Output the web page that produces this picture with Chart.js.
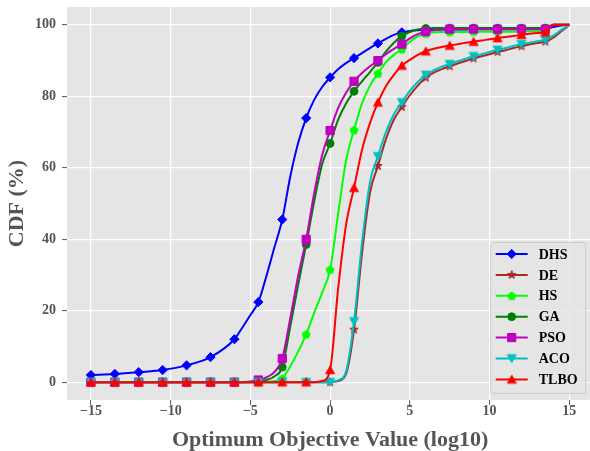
<!DOCTYPE html>
<html>
<head>
<meta charset="utf-8">
<script src="https://cdn.jsdelivr.net/npm/chart.js@4.4.1/dist/chart.umd.min.js"></script>
<style>
  html, body { margin: 0; padding: 0; background: #ffffff; overflow: hidden; }
  #wrap { width: 600px; height: 451px; }
</style>
</head>
<body>
<div id="wrap"><canvas id="cdf" width="600" height="451"></canvas></div>
<script>
// Sample positions (log10 of the optimum objective value)
const xValues = [-15, -13.5, -12, -10.5, -9, -7.5, -6,
  -5.5, -5, -4.5, -4, -3.5, -3, -2.5, -2, -1.5, -1, -0.5, 0, 0.5, 1, 1.5, 2, 2.5, 3, 3.5, 4, 4.5, 5, 5.5,
  6, 6.5, 7, 7.5, 8, 8.5, 9, 9.5, 10, 10.5, 11, 11.5, 12, 12.5, 13, 13.5, 14, 14.5, 15];

// Positions that carry a marker
const markerX = [-15, -13.5, -12, -10.5, -9, -7.5, -6, -4.5, -3, -1.5, 0, 1.5, 3, 4.5, 6, 7.5, 9, 10.5, 12, 13.5];

// CDF values (%) for each algorithm
const dhsValues = [2.0, 2.3, 2.8, 3.4, 4.7, 7.0, 12.0,
  15.3, 18.8, 22.4, 29.6, 37.6, 45.5, 57.5, 67.0, 73.9, 79.0, 82.6,
  85.3, 87.6, 89.3, 90.7, 92.1, 93.5, 94.8, 96.1, 97.2, 97.9, 98.3, 98.5,
  98.6, 98.6, 98.7, 98.7, 98.7, 98.7, 98.8, 98.8, 98.8, 98.8, 98.8, 98.8, 98.9, 98.9, 98.9, 98.9, 99.4, 99.8, 100];
const deValues = [0, 0, 0, 0, 0, 0, 0, 0, 0, 0, 0, 0, 0, 0, 0, 0, 0, 0, 0,
  0.3, 2.3, 14.7, 36.0, 53.0, 60.5, 68.0, 73.5, 77.0, 80.3, 83.0,
  85.2, 86.6, 87.6, 88.4, 89.2, 89.9, 90.6, 91.2, 91.8, 92.4, 92.9, 93.5, 94.0, 94.5, 94.9, 95.3, 96.4, 98.2, 100];
const hsValues = [0, 0, 0, 0, 0, 0, 0, 0, 0, 0, 0,
  0.3, 1.0, 4.4, 8.6, 13.4, 19.4, 25.0, 31.5, 47.0, 62.0, 70.6, 78.0, 83.0, 86.4, 89.5, 91.6, 93.2, 95.3, 96.8,
  97.6, 97.9, 98.0, 98.0, 98.0, 98.0, 98.1, 98.1, 98.1, 98.1, 98.1, 98.1, 98.2, 98.2, 98.2, 98.2, 100, 100, 100];
const gaValues = [0, 0, 0, 0, 0, 0, 0, 0,
  0.05, 0.2, 0.6, 1.6, 4.2, 15.5, 27.3, 38.5, 50.5, 61.0, 66.8, 73.4, 78.0, 81.4, 84.2, 86.8, 89.5, 92.5, 95.0, 96.9, 98.0, 98.7,
  99.0, 99.1, 99.1, 99.1, 99.1, 99.1, 99.1, 99.1, 99.1, 99.1, 99.1, 99.1, 99.1, 99.1, 99.1, 99.1, 100, 100, 100];
const psoValues = [0, 0, 0, 0, 0, 0, 0,
  0.05, 0.2, 0.6, 1.3, 2.8, 6.6, 17.8, 29.8, 40.0, 52.9, 63.5, 70.4, 76.7, 81.0, 84.2, 86.5, 88.4, 90.0, 91.8, 93.3, 94.6, 96.2, 97.4,
  98.1, 98.5, 98.7, 98.8, 98.8, 98.8, 98.8, 98.8, 98.8, 98.8, 98.8, 98.8, 98.8, 98.8, 98.8, 98.8, 100, 100, 100];
const acoValues = [0, 0, 0, 0, 0, 0, 0, 0, 0, 0, 0, 0, 0, 0, 0, 0, 0, 0, 0,
  0.5, 3.0, 17.0, 39.0, 56.0, 63.2, 70.0, 75.0, 78.3, 81.5, 84.0,
  86.0, 87.3, 88.3, 89.0, 89.8, 90.5, 91.2, 91.8, 92.4, 93.0, 93.5, 94.1, 94.6, 95.0, 95.4, 95.8, 97.0, 98.6, 100];
const tlboValues = [0, 0, 0, 0, 0, 0, 0, 0, 0, 0, 0, 0, 0, 0, 0, 0, 0,
  0.3, 3.4, 26.0, 44.0, 54.4, 65.0, 72.5, 78.3, 82.8, 86.0, 88.6, 90.2, 91.6,
  92.6, 93.3, 93.8, 94.2, 94.6, 95.0, 95.3, 95.6, 96.0, 96.3, 96.6, 96.9, 97.2, 97.5, 97.7, 97.9, 100, 100, 100];

const seriesNames = ['DHS', 'DE', 'HS', 'GA', 'PSO', 'ACO', 'TLBO'];
const seriesValues = [dhsValues, deValues, hsValues, gaValues, psoValues, acoValues, tlboValues];

const xTicks = [-15, -10, -5, 0, 5, 10, 15];
const yTicks = [0, 20, 40, 60, 80, 100];

const SERIF = "'Liberation Serif', 'Times New Roman', Times, serif";

// Small canvases for the marker shapes Chart.js lacks
function markerCanvas(color, drawPath) {
  const c = document.createElement('canvas');
  c.width = 12; c.height = 12;
  const g = c.getContext('2d');
  g.fillStyle = color; g.strokeStyle = color; g.lineWidth = 1;
  g.beginPath();
  drawPath(g, 6, 6);
  g.closePath();
  g.fill(); g.stroke();
  return c;
}
function starPath(g, cx, cy) {
  const R = 4.4, r = R * 0.382;
  for (let k = 0; k < 10; k++) {
    const a = -Math.PI / 2 + k * Math.PI / 5;
    const rr = k % 2 === 0 ? R : r;
    const px = cx + rr * Math.cos(a), py = cy + rr * Math.sin(a);
    k === 0 ? g.moveTo(px, py) : g.lineTo(px, py);
  }
}
function pentagonPath(g, cx, cy) {
  const R = 4.2;
  for (let k = 0; k < 5; k++) {
    const a = -Math.PI / 2 + k * 2 * Math.PI / 5;
    const px = cx + R * Math.cos(a), py = cy + R * Math.sin(a) + 0.4;
    k === 0 ? g.moveTo(px, py) : g.lineTo(px, py);
  }
}
function triUpPath(g, cx, cy) {
  g.moveTo(cx, cy - 4.2); g.lineTo(cx + 4.4, cy + 3.8); g.lineTo(cx - 4.4, cy + 3.8);
}
function triDownPath(g, cx, cy) {
  g.moveTo(cx, cy + 4.2); g.lineTo(cx + 4.4, cy - 3.8); g.lineTo(cx - 4.4, cy - 3.8);
}

const seriesStyles = [
  { color: '#0000ff', pointStyle: 'rectRot', radius: 4.6 },
  { color: '#a52a2a', pointStyle: markerCanvas('#a52a2a', starPath), radius: 4 },
  { color: '#00ff00', pointStyle: markerCanvas('#00ff00', pentagonPath), radius: 4 },
  { color: '#008000', pointStyle: 'circle', radius: 3.9 },
  { color: '#bf00bf', pointStyle: 'rect', radius: 5.8 },
  { color: '#00bfbf', pointStyle: markerCanvas('#00bfbf', triDownPath), radius: 4 },
  { color: '#ff0000', pointStyle: markerCanvas('#ff0000', triUpPath), radius: 4 }
];

function isMarker(x) {
  return markerX.some(m => Math.abs(m - x) < 1e-9);
}

const datasets = seriesNames.map((name, i) => {
  const st = seriesStyles[i];
  return {
    label: name,
    data: xValues.map((x, j) => ({ x: x, y: seriesValues[i][j] })),
    borderColor: st.color,
    backgroundColor: st.color,
    borderWidth: 2,
    cubicInterpolationMode: 'monotone',
    pointStyle: st.pointStyle,
    pointBackgroundColor: st.color,
    pointBorderColor: st.color,
    pointBorderWidth: 1,
    pointRadius: ctx => isMarker(xValues[ctx.dataIndex]) ? st.radius : 0,
    pointHoverRadius: 0,
    order: seriesNames.length - i
  };
});

// Grey panel behind the plotting area
const panelPlugin = {
  id: 'panel',
  beforeDraw(chart) {
    const { ctx, chartArea: a } = chart;
    ctx.save();
    ctx.fillStyle = '#ffffff';
    ctx.fillRect(0, 0, chart.width, chart.height);
    ctx.fillStyle = '#e5e5e5';
    ctx.fillRect(a.left, a.top, a.right - a.left, a.bottom - a.top);
    ctx.restore();
  }
};

// Legend box in the lower right corner of the plotting area
const legendBoxPlugin = {
  id: 'legendBox',
  afterDraw(chart) {
    const { ctx, chartArea: a } = chart;
    const w = 95, h = 151;
    const bx = a.right - 8 - w + 0.5, by = a.bottom - 7 - h + 0.5;
    ctx.save();
    ctx.beginPath();
    if (ctx.roundRect) ctx.roundRect(bx, by, w, h, 3); else ctx.rect(bx, by, w, h);
    ctx.fillStyle = 'rgba(229,229,229,0.8)';
    ctx.fill();
    ctx.strokeStyle = '#cccccc';
    ctx.lineWidth = 1;
    ctx.stroke();
    ctx.font = 'bold 14px ' + SERIF;
    ctx.textBaseline = 'middle';
    ctx.textAlign = 'left';
    seriesNames.forEach((name, i) => {
      const st = seriesStyles[i];
      const y = by + 11.5 + i * 20.9;
      const x0 = bx + 5;
      ctx.strokeStyle = st.color;
      ctx.lineWidth = 2;
      ctx.beginPath();
      ctx.moveTo(x0, y);
      ctx.lineTo(x0 + 32, y);
      ctx.stroke();
      ctx.fillStyle = st.color;
      ctx.lineWidth = 1;
      Chart.helpers.drawPoint(ctx, { pointStyle: st.pointStyle, radius: st.radius, rotation: 0, borderWidth: 1 }, x0 + 16, y);
      ctx.fillStyle = '#000000';
      ctx.fillText(name, bx + 48, y + 1);
    });
    ctx.restore();
  }
};

const tickFont = { family: SERIF, weight: 'bold', size: 14 };
const titleFont = { family: SERIF, weight: 'bold', size: 22, lineHeight: 1 };

// Keep the plotting area fixed: no extra room for end labels
function fixPadding(s) {
  s.paddingTop = 0; s.paddingBottom = 0; s.paddingLeft = 0; s.paddingRight = 0;
}

new Chart(document.getElementById('cdf'), {
  type: 'line',
  data: { datasets },
  plugins: [panelPlugin, legendBoxPlugin],
  options: {
    responsive: false,
    animation: false,
    devicePixelRatio: 1,
    events: [],
    layout: { padding: { top: 7, right: 4, left: 0, bottom: 0 } },
    plugins: { legend: { display: false }, tooltip: { enabled: false } },
    scales: {
      x: {
        type: 'linear',
        min: -16.5,
        max: 16.5,
        afterBuildTicks: s => { s.ticks = xTicks.map(v => ({ value: v })); },
        afterFit: s => { s.height = 51; fixPadding(s); },
        border: { display: false },
        grid: { color: '#ffffff', lineWidth: 1.2, tickColor: '#555555', tickLength: 5, tickWidth: 1 },
        ticks: {
          color: '#555555', font: tickFont, padding: -2, maxRotation: 0, autoSkip: false,
          callback: v => (v < 0 ? '\u2212' + Math.abs(v) : String(v))
        },
        title: { display: true, text: 'Optimum Objective Value (log10)', color: '#555555', font: titleFont, padding: { top: 0, bottom: 0 } }
      },
      y: {
        type: 'linear',
        min: -5,
        max: 105,
        afterBuildTicks: s => { s.ticks = yTicks.map(v => ({ value: v })); },
        afterFit: s => { s.width = 67; fixPadding(s); },
        border: { display: false },
        grid: { color: '#ffffff', lineWidth: 1.2, tickColor: '#555555', tickLength: 5, tickWidth: 1 },
        ticks: { color: '#555555', font: tickFont, padding: 6, autoSkip: false, callback: v => String(v) },
        title: { display: true, text: 'CDF (%)', color: '#555555', font: titleFont, padding: { top: 6.6, bottom: 0 } }
      }
    }
  }
});
</script>
</body>
</html>
